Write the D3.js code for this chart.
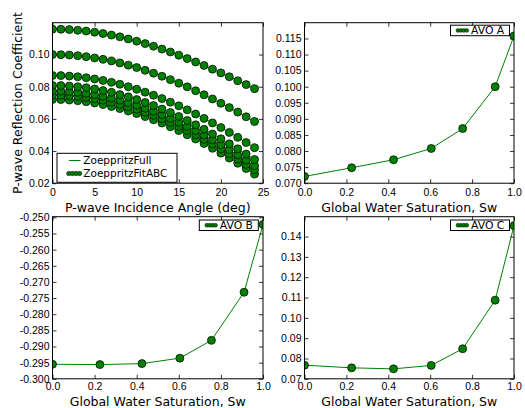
<!DOCTYPE html>
<html>
<head>
<meta charset="utf-8">
<script src="https://cdn.jsdelivr.net/npm/d3@7"></script>
<style>
  body { margin: 0; background: #fff; }
  svg { display: block; font-family: "DejaVu Sans", sans-serif; }
  .tick text { font-size: 10.5px; fill: #000; }
  .tick line { stroke: #000; stroke-width: 0.8; }
</style>
</head>
<body>
<svg id="chart" width="525" height="408"></svg>
<script>
// incidence angles (deg)
const angleDeg = [0,1,2,3,4,5,6,7,8,9,10,11,12,13,14,15,16,17,18,19,20,21,22,23,24];

// reflection coefficient curves, one per water saturation
const rcSw0 = [0.0721,0.0720,0.0717,0.0713,0.0707,0.0699,0.0689,0.0677,0.0664,0.0649,0.0633,0.0614,0.0595,0.0574,0.0551,0.0527,0.0501,0.0475,0.0447,0.0417,0.0387,0.0356,0.0324,0.0291,0.0257];
const rcSw1 = [0.0748,0.0747,0.0744,0.0740,0.0734,0.0726,0.0716,0.0704,0.0691,0.0676,0.0660,0.0641,0.0622,0.0600,0.0578,0.0554,0.0528,0.0501,0.0473,0.0444,0.0414,0.0383,0.0350,0.0317,0.0284];
const rcSw2 = [0.0773,0.0772,0.0769,0.0765,0.0759,0.0751,0.0741,0.0729,0.0716,0.0701,0.0685,0.0666,0.0647,0.0626,0.0603,0.0579,0.0553,0.0527,0.0499,0.0469,0.0439,0.0408,0.0376,0.0343,0.0309];
const rcSw3 = [0.0808,0.0807,0.0804,0.0800,0.0794,0.0786,0.0776,0.0765,0.0751,0.0737,0.0720,0.0702,0.0683,0.0661,0.0639,0.0615,0.0590,0.0563,0.0535,0.0506,0.0476,0.0445,0.0414,0.0381,0.0347];
const rcSw4 = [0.0870,0.0869,0.0866,0.0862,0.0856,0.0848,0.0839,0.0827,0.0815,0.0800,0.0784,0.0766,0.0747,0.0726,0.0704,0.0681,0.0656,0.0630,0.0603,0.0575,0.0546,0.0516,0.0485,0.0453,0.0421];
const rcSw5 = [0.1000,0.0999,0.0997,0.0993,0.0987,0.0979,0.0970,0.0960,0.0948,0.0934,0.0919,0.0902,0.0884,0.0865,0.0844,0.0822,0.0799,0.0775,0.0750,0.0724,0.0697,0.0670,0.0642,0.0613,0.0584];
const rcSw6 = [0.1158,0.1157,0.1155,0.1151,0.1146,0.1139,0.1131,0.1121,0.1110,0.1097,0.1083,0.1068,0.1052,0.1034,0.1016,0.0996,0.0975,0.0954,0.0932,0.0909,0.0886,0.0862,0.0837,0.0813,0.0788];
const rcCurves = [rcSw0, rcSw1, rcSw2, rcSw3, rcSw4, rcSw5, rcSw6];

// AVO fit coefficients vs global water saturation
const swGlobal = [0.0, 0.225, 0.425, 0.605, 0.755, 0.91, 1.0];
const avoA = [0.0721, 0.0748, 0.0773, 0.0808, 0.0870, 0.1000, 0.1158];
const avoB = [-0.2955, -0.2956, -0.2953, -0.2936, -0.2881, -0.2732, -0.2522];
const avoC = [0.0767, 0.0754, 0.0749, 0.0766, 0.0848, 0.1087, 0.1454];

const GREEN = "#008000";
const svg = d3.select("#chart");
const hy = s => s.replace("\u2212", "-");

let clipId = 0;
function panel(o) {
  const { x0, x1, y0, y1 } = o;
  const x = d3.scaleLinear().domain(o.xDom).range([x0, x1]);
  const y = d3.scaleLinear().domain(o.yDom).range([y1, y0]);
  const g = svg.append("g");

  const id = "clip" + (clipId++);
  g.append("clipPath").attr("id", id)
    .append("rect").attr("x", x0).attr("y", y0).attr("width", x1 - x0).attr("height", y1 - y0);

  // axes with inward ticks on all sides
  g.append("g").attr("transform", `translate(0,${y1})`)
    .call(d3.axisBottom(x).tickValues(o.xTicks).tickSize(-4).tickPadding(o.xPad).tickFormat(d => hy(o.xFmt(d))))
    .call(a => a.select(".domain").remove());
  g.append("g").attr("transform", `translate(0,${y0})`)
    .call(d3.axisTop(x).tickValues(o.xTicks).tickSize(-4).tickFormat(""))
    .call(a => a.select(".domain").remove());
  g.append("g").attr("transform", `translate(${x0},0)`)
    .call(d3.axisLeft(y).tickValues(o.yTicks).tickSize(-4).tickPadding(3).tickFormat(d => hy(o.yFmt(d))))
    .call(a => a.select(".domain").remove());
  g.append("g").attr("transform", `translate(${x1},0)`)
    .call(d3.axisRight(y).tickValues(o.yTicks).tickSize(-4).tickFormat(""))
    .call(a => a.select(".domain").remove());
  g.selectAll(".tick text").attr("font-family", null).attr("font-size", null);

  const plot = g.append("g").attr("clip-path", `url(#${id})`);
  const line = d3.line().x(d => x(d[0])).y(d => y(d[1]));
  o.series.forEach(s => {
    const pts = s.xs.map((v, i) => [v, s.ys[i]]);
    plot.append("path").attr("d", line(pts))
      .attr("fill", "none").attr("stroke", GREEN).attr("stroke-width", 1);
  });
  o.series.forEach(s => {
    plot.selectAll(null).data(s.xs.map((v, i) => [v, s.ys[i]])).join("circle")
      .attr("cx", d => x(d[0])).attr("cy", d => y(d[1])).attr("r", 4)
      .attr("fill", GREEN).attr("stroke", "#000").attr("stroke-width", 0.7);
  });

  g.append("rect").attr("x", x0).attr("y", y0).attr("width", x1 - x0).attr("height", y1 - y0)
    .attr("fill", "none").attr("stroke", "#000").attr("stroke-width", 1);

  g.append("text").attr("x", (x0 + x1) / 2).attr("y", o.xLabelY)
    .attr("text-anchor", "middle").attr("font-size", 12.5).text(o.xLabel);
  if (o.yLabel) {
    g.append("text").attr("transform", `translate(${o.yLabelX},${(y0 + y1) / 2}) rotate(-90)`)
      .attr("text-anchor", "middle").attr("font-size", 12.5).text(o.yLabel);
  }
  return g;
}

function dots(g, cx0, cy, n, step, r) {
  for (let i = 0; i < n; i++) {
    g.append("circle").attr("cx", cx0 + i * step).attr("cy", cy).attr("r", r)
      .attr("fill", GREEN).attr("stroke", "#000").attr("stroke-width", 0.5);
  }
}

function smallLegend(g, right, top, label) {
  const w = 59, h = 10.5, lx = right - w;
  g.append("rect").attr("x", lx).attr("y", top).attr("width", w).attr("height", h)
    .attr("fill", "#fff").attr("stroke", "#000").attr("stroke-width", 1);
  g.append("line").attr("x1", lx + 6).attr("x2", lx + 18).attr("y1", top + h / 2).attr("y2", top + h / 2)
    .attr("stroke", GREEN);
  dots(g, lx + 7.5, top + h / 2, 4, 2.9, 1.9);
  g.append("text").attr("x", lx + 20.5).attr("y", top + h / 2 + 3.9)
    .attr("font-size", 10.8).text(label);
}

const L = { x0: 52.5, x1: 263 }, R = { x0: 304.5, x1: 514 };
const T = { y0: 22.7, y1: 183.2 }, B = { y0: 216.7, y1: 378.8 };
const f1 = d3.format(".1f"), f2 = d3.format(".2f"), f3 = d3.format(".3f");
const swTicks = [0, 0.2, 0.4, 0.6, 0.8, 1.0];

// top-left: reflection coefficient vs angle
const gTL = panel({
  ...L, ...T, xDom: [0, 25], yDom: [0.02, 0.1198],
  xTicks: [0, 5, 10, 15, 20, 25], yTicks: [0.02, 0.04, 0.06, 0.08, 0.10],
  xFmt: d3.format("d"), yFmt: f2, xPad: 5,
  series: rcCurves.map(c => ({ xs: angleDeg, ys: c })),
  xLabel: "P-wave Incidence Angle (deg)", xLabelY: 212.3,
  yLabel: "P-wave Reflection Coefficient", yLabelX: 21.5
});
{
  const lx = 57, ly = 153.3, lw = 120, lh = 29;
  gTL.append("rect").attr("x", lx).attr("y", ly).attr("width", lw).attr("height", lh)
    .attr("fill", "#fff").attr("stroke", "#000").attr("stroke-width", 1);
  gTL.append("line").attr("x1", 69).attr("x2", 80.5).attr("y1", 160.5).attr("y2", 160.5)
    .attr("stroke", GREEN).attr("stroke-width", 1);
  gTL.append("text").attr("x", 83.3).attr("y", 164.3).attr("font-size", 10.5).text("ZoeppritzFull");
  gTL.append("line").attr("x1", 67).attr("x2", 81.5).attr("y1", 173.5).attr("y2", 173.5)
    .attr("stroke", GREEN);
  dots(gTL, 68.8, 173.5, 4, 3.6, 2.2);
  gTL.append("text").attr("x", 83.3).attr("y", 177.3).attr("font-size", 10.5).text("ZoeppritzFitABC");
}

// top-right: AVO A
const gTR = panel({
  ...R, ...T, xDom: [0, 1], yDom: [0.070, 0.1199],
  xTicks: swTicks, yTicks: d3.range(0.070, 0.1151, 0.005),
  xFmt: f1, yFmt: f3, xPad: 5,
  series: [{ xs: swGlobal, ys: avoA }],
  xLabel: "Global Water Saturation, Sw", xLabelY: 212.3
});
smallLegend(gTR, R.x1 - 4.5, T.y0 + 2.5, "AVO A");

// bottom-left: AVO B
const gBL = panel({
  ...L, ...B, xDom: [0, 1], yDom: [-0.300, -0.2498],
  xTicks: swTicks, yTicks: d3.range(-0.300, -0.2499, 0.005),
  xFmt: f1, yFmt: f3, xPad: 3.5,
  series: [{ xs: swGlobal, ys: avoB }],
  xLabel: "Global Water Saturation, Sw", xLabelY: 406
});
smallLegend(gBL, L.x1 - 4.7, B.y0 + 3.3, "AVO B");

// bottom-right: AVO C
const gBR = panel({
  ...R, ...B, xDom: [0, 1], yDom: [0.07, 0.1498],
  xTicks: swTicks, yTicks: d3.range(0.07, 0.1401, 0.01),
  xFmt: f1, yFmt: f2, xPad: 3.5,
  series: [{ xs: swGlobal, ys: avoC }],
  xLabel: "Global Water Saturation, Sw", xLabelY: 406
});
smallLegend(gBR, R.x1 - 4.5, B.y0 + 3.3, "AVO C");
</script>
</body>
</html>
